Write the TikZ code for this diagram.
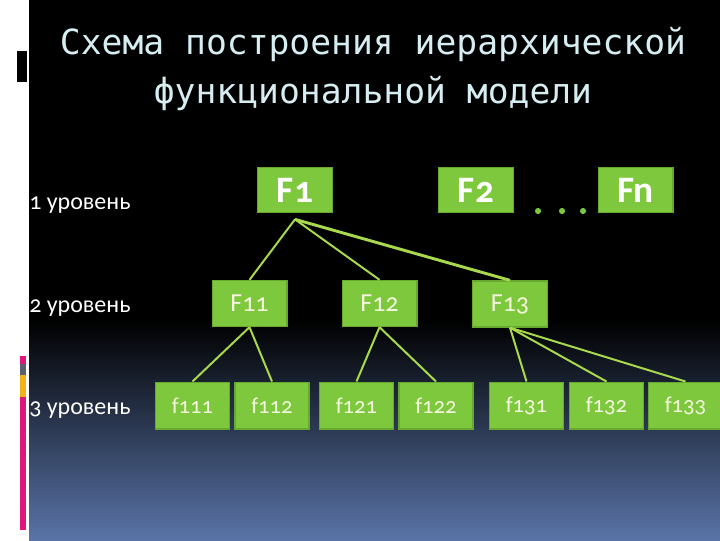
\documentclass[tikz,border=0pt]{standalone}
\usepackage{fontspec}
\usepackage{tikz}
\usetikzlibrary{positioning,calc}
\newfontfamily\titlefont{DejaVu Sans Mono}
\newfontfamily\calfont[Numbers=OldStyle]{Carlito}
\definecolor{fngreen}{HTML}{7DC83C}
\definecolor{fnedge}{HTML}{66A830}
\definecolor{fnline}{HTML}{A8D84C}
\definecolor{fntext}{HTML}{F4F6DE}
\definecolor{titlecol}{HTML}{D6EEF2}
\definecolor{bgblue}{HTML}{5A74A8}
\definecolor{barpink}{HTML}{E0177A}
\definecolor{bargray}{HTML}{5A6070}
\definecolor{baryellow}{HTML}{F0B418}
\tikzset{
  fnone/.style={rectangle, draw=fnedge, fill=fngreen, line width=1pt, minimum width=56pt, minimum height=34pt, inner sep=0pt, text=white, font=\calfont\bfseries\fontsize{28}{30}\selectfont},
  fntwo/.style={rectangle, draw=fnedge, fill=fngreen, line width=1pt, minimum width=56pt, minimum height=34.5pt, inner sep=0pt, text=fntext, font=\calfont\fontsize{19.5}{21}\selectfont},
  fnthree/.style={rectangle, draw=fnedge, fill=fngreen, line width=1pt, minimum width=55.5pt, minimum height=35pt, inner sep=0pt, text=fntext, font=\calfont\fontsize{17}{19}\selectfont},
  lvl/.style={anchor=base west, inner sep=0pt, text=white, font=\calfont\fontsize{18}{20}\selectfont},
  fnw/.style={draw=fnline, line width=1.5pt}
}

\begin{document}
\begin{tikzpicture}[x=0.75pt, y=-0.75pt]
  \useasboundingbox (0,0) rectangle (720,540);
  % slide background
  \fill[white] (0,0) rectangle (29,540);
  \fill[black] (29,0) rectangle (720,320);
  \shade[top color=black, bottom color=bgblue] (29,320) rectangle (720,540);
  \fill[black] (17,51) rectangle (27,82);
  \fill[barpink] (20,356) rectangle (26,364);
  \fill[bargray] (20,364) rectangle (26,375);
  \fill[baryellow] (20,375) rectangle (26,397);
  \fill[barpink] (20,397) rectangle (26,530);

  \node[text=titlecol, font=\titlefont\fontsize{26}{37}\selectfont, align=center] (title) at (373,69)
    {Схема построения иерархической\\функциональной модели};

  \node[lvl] (l1) at (29,209) {1 уровень};
  \node[lvl] (l2) at (29,312) {2 уровень};
  \node[lvl] (l3) at (29,414) {3 уровень};

  \node[fnone] (F1) at (295,190) {F1};
  \node[fnone] (F2) at (476,190) {F2};
  \node[fnone] (Fn) at (635.5,190) {Fn};
  \foreach \x in {538,562,583} \fill[fngreen] (\x,211) circle (2.3pt);

  \node[fntwo] (F11) at (249.5,303.5) {F11};
  \node[fntwo] (F12) at (379.5,303.5) {F12};
  \node[fntwo] (F13) at (510,304) {F13};

  \node[fnthree] (f111) at (192.5,405.5) {f111};
  \node[fnthree] (f112) at (272,405.5) {f112};
  \node[fnthree] (f121) at (356.5,405.5) {f121};
  \node[fnthree] (f122) at (436,405.5) {f122};
  \node[fnthree] (f131) at (526.5,405.5) {f131};
  \node[fnthree] (f132) at (606.5,405.5) {f132};
  \node[fnthree] (f133) at (685.5,405.5) {f133};

  \coordinate (F1b) at ([yshift=-4.5pt]F1.south);
  \draw[fnw] (F1b) -- (F11.north);
  \draw[fnw] (F1b) -- (F12.north);
  \draw[fnw, line width=2.2pt] (F1b) -- (F13.north);
  \draw[fnw] (F11.south) -- (f111.north);
  \draw[fnw] (F11.south) -- (f112.north);
  \draw[fnw] (F12.south) -- (f121.north);
  \draw[fnw] (F12.south) -- (f122.north);
  \draw[fnw] (F13.south) -- (f131.north);
  \draw[fnw] (F13.south) -- (f132.north);
  \draw[fnw] (F13.south) -- (f133.north);
\end{tikzpicture}
\end{document}
